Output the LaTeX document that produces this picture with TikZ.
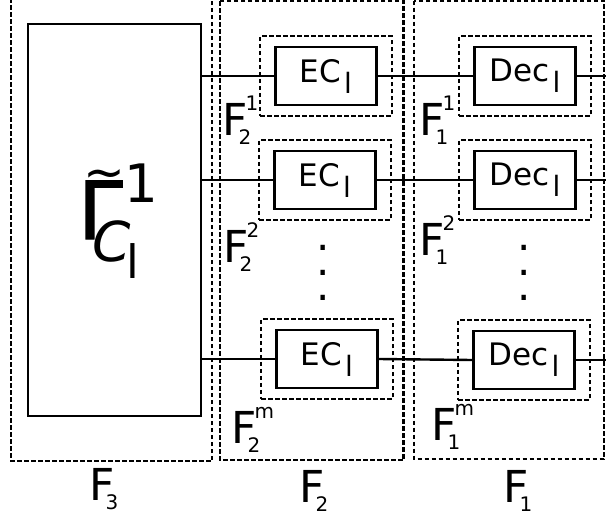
\documentclass[tikz,border=0pt]{standalone}
\usepackage{fontspec}
\setmainfont{DejaVu Sans}
\usetikzlibrary{fit}

% F with a lower and an upper index
\newcommand{\Flab}[2]{{\fontsize{44}{44}\selectfont F}%
  \rlap{\kern-9pt\raisebox{-9pt}{\fontsize{20}{20}\selectfont #1}}%
  \kern-2pt\raisebox{24.5pt}{\fontsize{20}{20}\selectfont #2}}
% block text with the lowered l
\newcommand{\blk}[1]{\fontsize{31}{31}\selectfont #1\kern3pt\raisebox{-11pt}{\fontsize{28}{28}\selectfont l}}

\tikzset{
  block/.style={draw, line width=2.5pt, minimum width=101pt, minimum height=58pt, inner sep=0pt},
  wrap/.style={draw, line width=2.3pt, dash pattern=on 4.5pt off 2.5pt, inner xsep=14pt, inner ysep=9.5pt},
  region/.style={draw, line width=2.3pt, dash pattern=on 4.5pt off 2.5pt},
  wire/.style={line width=2.4pt},
  lab/.style={anchor=base west, inner sep=0pt}
}

\begin{document}
\begin{tikzpicture}[x=1pt, y=-1pt]
\useasboundingbox (0,0) rectangle (606,517);

% the three stages
\draw[region] (11,-2) rectangle (212,461);
\draw[region] (220,1) rectangle (403.5,460);
\draw[region] (414,0.5) rectangle (604,459);

% source block
\node[draw, line width=2.5pt, minimum width=173pt, minimum height=392pt] (gam) at (114.5,220) {};
\node[lab] (gamlab) at (78,239) {%
  \rlap{\kern5.5pt\raisebox{50pt}{\fontsize{50}{50}\selectfont ∼}}%
  {\fontsize{80}{80}\selectfont\addfontfeatures{FakeBold=1.5}Γ}%
  \rlap{\kern1.5pt\raisebox{37pt}{\fontsize{53}{53}\selectfont 1}}%
  \kern-30.6pt\raisebox{-22pt}{\fontsize{55}{55}\selectfont\itshape C}%
  \kern-4pt\raisebox{-39pt}{\fontsize{46}{46}\selectfont l}};

% encoders
\node[block] (ec1) at (326,76) {\blk{EC}};
\node[block] (ec2) at (325,180) {\blk{EC}};
\node[block] (ec3) at (327,359) {\blk{EC}};
\node[wrap, fit=(ec1)] (ecw1) {};
\node[wrap, fit=(ec2)] (ecw2) {};
\node[wrap, fit=(ec3)] (ecw3) {};

% decoders
\node[block] (dec1) at (525,76) {\blk{Dec}};
\node[block] (dec2) at (525,180) {\blk{Dec}};
\node[block] (dec3) at (524,360) {\blk{Dec}};
\node[wrap, fit=(dec1)] (decw1) {};
\node[wrap, fit=(dec2)] (decw2) {};
\node[wrap, fit=(dec3)] (decw3) {};

% vertical dots
\node[anchor=base, inner sep=0pt] (vd2) at (323,300) {\fontsize{42}{42}\selectfont\rlap{\raisebox{50pt}{.}}\rlap{\raisebox{25pt}{.}}.};
\node[anchor=base, inner sep=0pt] (vd1) at (524,300) {\fontsize{42}{42}\selectfont\rlap{\raisebox{50pt}{.}}\rlap{\raisebox{25pt}{.}}.};

% wires
\coordinate (rim) at (606,0);
\foreach \i in {1,2,3} {
  \draw[wire] (gam.east |- ec\i.west) -- (ec\i.west);
  \draw[wire] (ec\i.east) -- (dec\i.west);
  \draw[wire] (dec\i.east) -- (dec\i.east -| rim);
}

% index labels
\node[lab] (f21) at (222,135) {\Flab{2}{1}};
\node[lab] (f22) at (223,262) {\Flab{2}{2}};
\node[lab] (f2m) at (231,443) {\Flab{2}{m}};
\node[lab] (f11) at (419,135) {\Flab{1}{1}};
\node[lab] (f12) at (419,255) {\Flab{1}{2}};
\node[lab] (f1m) at (431,440) {\Flab{1}{m}};

% stage names
\node[lab] (f3) at (89,500) {\Flab{3}{}};
\node[lab] (f2) at (299,502) {\Flab{2}{}};
\node[lab] (f1) at (503,502) {\Flab{1}{}};
\end{tikzpicture}
\end{document}
